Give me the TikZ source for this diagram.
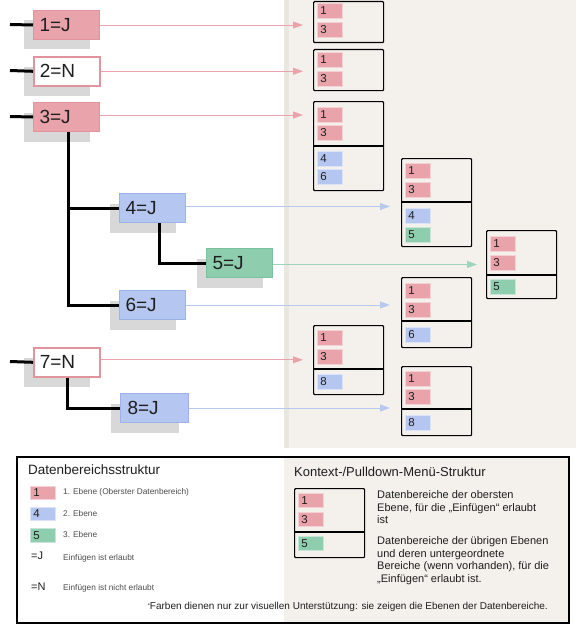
\documentclass[tikz,border=0pt]{standalone}
\usepackage{fontspec}
\setmainfont{Liberation Sans}
\usetikzlibrary{arrows.meta,shadows}
\definecolor{pinkf}{HTML}{E9A3AB}
\definecolor{pinkd}{HTML}{E3939D}
\definecolor{bluef}{HTML}{B5C7F1}
\definecolor{blued}{HTML}{9DB3E8}
\definecolor{greenf}{HTML}{8FCDAF}
\definecolor{greend}{HTML}{78C29C}
\definecolor{shadowc}{HTML}{D8D8D8}
\definecolor{beige}{HTML}{F4F1EC}
\definecolor{beiged}{HTML}{EAE6E0}
\definecolor{txt}{HTML}{1E1E1E}
\definecolor{parrc}{HTML}{EBA3AB}
\definecolor{barrc}{HTML}{B8C9F0}
\definecolor{garrc}{HTML}{9ED4B9}
\tikzset{
  tbox/.style={draw, line width=1pt, minimum width=66pt, minimum height=29pt, inner sep=0pt,
    text width=54pt, align=left, anchor=north west, font=\fontsize{19}{19}\selectfont, text=txt,
    drop shadow={shadow xshift=-10pt, shadow yshift=-10pt, fill=shadowc, opacity=1}},
  pbox/.style={tbox, fill=pinkf, draw=pinkd},
  nbox/.style={tbox, fill=white, draw=pinkd, line width=1.6pt},
  bbox/.style={tbox, fill=bluef, draw=blued},
  gbox/.style={tbox, fill=greenf, draw=greend},
  tree/.style={line width=3pt, black},
  parr/.style={draw=parrc, line width=0.9pt, -{Triangle[length=10pt,width=7pt,fill=parrc]}, shorten >=10pt},
  barr/.style={draw=barrc, line width=0.9pt, -{Triangle[length=10pt,width=7pt,fill=barrc]}, shorten >=11pt},
  garr/.style={draw=garrc, line width=0.9pt, -{Triangle[length=10pt,width=7pt,fill=garrc]}, shorten >=9pt},
  mbox/.style={draw, line width=1.2pt, rounded corners=1pt, minimum width=70pt, inner sep=0pt, anchor=north west},
  mline/.style={line width=1.2pt},
  mitem/.style={minimum width=25pt, minimum height=15pt, inner sep=0pt, text width=19pt, align=left,
    anchor=north west, font=\fontsize{11.5}{11.5}\selectfont, text=txt, line width=0.6pt},
  pi/.style={mitem, fill=pinkf, draw=pinkf!50!white},
  bi/.style={mitem, fill=bluef, draw=bluef!50!white},
  gi/.style={mitem, fill=greenf, draw=greenf!50!white},
  small/.style={font=\fontsize{8.3}{9}\selectfont, text=txt!80, anchor=west, inner sep=0pt},
  ltext/.style={font=\fontsize{11}{12.6}\selectfont, text=txt, anchor=north west, inner sep=0pt, align=left},
}
\begin{document}
\begin{tikzpicture}[x=1pt,y=-1pt]
\useasboundingbox (0,0) rectangle (576,626);
% background panel
\fill[beige] (284,0) rectangle (576,448);
\fill[beiged] (284,0) rectangle (289,448);

% tree nodes
\node[pbox] (n1) at (33,10) {1=J};
\node[nbox] (n2) at (33,56) {2=N};
\node[pbox] (n3) at (33,102) {3=J};
\node[bbox] (n4) at (119,193) {4=J};
\node[gbox] (n5) at (206,248) {5=J};
\node[bbox] (n6) at (119,290) {6=J};
\node[nbox] (n7) at (33,347) {7=N};
\node[bbox, minimum width=68pt] (n8) at (120,393) {8=J};

% stubs
\coordinate (s1) at (10,24.5);
\coordinate (s2) at (10,70.5);
\coordinate (s3) at (10,116.5);
\coordinate (s7) at (10,361.5);
\draw[tree] (s1) -- (n1.west);
\draw[tree] (s2) -- (n2.west);
\draw[tree] (s3) -- (n3.west);
\draw[tree] (s7) -- (n7.west);
\draw[tree] ([xshift=2pt]n3.south) |- (n4.west);
\draw[tree] ([xshift=2pt]n3.south) |- (n6.west);
\draw[tree] ([xshift=6.5pt]n4.south) |- (n5.west);
\draw[tree] ([xshift=0.5pt]n7.south) |- (n8.west);

% menu boxes
\node[mbox, minimum height=41pt] (m1) at (313,1) {};
\node[pi] (m1a) at (317,3) {1};
\node[pi] (m1b) at (317,22) {3};

\node[mbox, minimum height=41pt] (m2) at (313,49) {};
\node[pi] (m2a) at (317,52) {1};
\node[pi] (m2b) at (317,71) {3};

\node[mbox, minimum height=89pt] (m3) at (313,101) {};
\node[pi] (m3a) at (317,107) {1};
\node[pi] (m3b) at (317,125) {3};
\draw[mline] (m3.west |- 0,146) -- (m3.east |- 0,146);
\node[bi] (m3c) at (317,151) {4};
\node[bi] (m3d) at (317,169) {6};

\node[mbox, minimum height=88pt] (m4) at (401,158) {};
\node[pi] (m4a) at (405,163) {1};
\node[pi] (m4b) at (405,182) {3};
\draw[mline] (m4.west |- 0,202) -- (m4.east |- 0,202);
\node[bi] (m4c) at (405,208) {4};
\node[gi] (m4d) at (405,227) {5};

\node[mbox, minimum height=68pt] (m5) at (486,230) {};
\node[pi] (m5a) at (490,236) {1};
\node[pi] (m5b) at (490,255) {3};
\draw[mline] (m5.west |- 0,275) -- (m5.east |- 0,275);
\node[gi] (m5c) at (490,279) {5};

\node[mbox, minimum height=70pt] (m6) at (401,277) {};
\node[pi] (m6a) at (405,283) {1};
\node[pi] (m6b) at (405,302) {3};
\draw[mline] (m6.west |- 0,321) -- (m6.east |- 0,321);
\node[bi] (m6c) at (405,327) {6};

\node[mbox, minimum height=69pt] (m7) at (313,325) {};
\node[pi] (m7a) at (317,330) {1};
\node[pi] (m7b) at (317,349) {3};
\draw[mline] (m7.west |- 0,369) -- (m7.east |- 0,369);
\node[bi] (m7c) at (317,374) {8};

\node[mbox, minimum height=69pt] (m8) at (401,366) {};
\node[pi] (m8a) at (405,371) {1};
\node[pi] (m8b) at (405,389) {3};
\draw[mline] (m8.west |- 0,409) -- (m8.east |- 0,409);
\node[bi] (m8c) at (405,415) {8};

% arrows
\draw[parr] (n1.east) -- (n1.east -| m1.west);
\draw[parr] (n2.east) -- (n2.east -| m2.west);
\draw[parr] ([yshift=2pt]n3.east) -- ([yshift=2pt]n3.east -| m3.west);
\draw[barr] ([yshift=1.5pt]n4.east) -- ([yshift=1.5pt]n4.east -| m4.west);
\draw[garr] ([yshift=-1.5pt]n5.east) -- ([yshift=-1.5pt]n5.east -| m5.west);
\draw[barr] (n6.east) -- (n6.east -| m6.west);
\draw[parr] ([yshift=2.5pt]n7.east) -- ([yshift=2.5pt]n7.east -| m7.west);
\draw[barr] (n8.east) -- (n8.east -| m8.west);

% legend
\fill[beige] (284,456) rectangle (568,622);
\node[draw, line width=2pt, minimum width=552pt, minimum height=166pt, anchor=north west, inner sep=0pt] (lg) at (16,456) {};
\node[font=\fontsize{13.5}{13.5}\selectfont, text=txt, anchor=west, inner sep=0pt] (lt1) at (28,470) {Datenbereichsstruktur};
\node[pi, minimum height=13pt] (lp) at (30,486) {1};
\node[bi, minimum height=13pt] (lb) at (30,507) {4};
\node[gi, minimum height=14pt] (lgn) at (30,528) {5};
\node[small] (lpt) at (63,492.5) {1. Ebene (Oberster Datenbereich)};
\node[small] (lbt) at (63,513.5) {2. Ebene};
\node[small] (lgt) at (63,535) {3. Ebene};
\node[font=\fontsize{11}{11}\selectfont, text=txt, anchor=west, inner sep=0pt] (lj) at (31,556) {=J};
\node[font=\fontsize{11}{11}\selectfont, text=txt, anchor=west, inner sep=0pt] (ln) at (31,587) {=N};
\node[small] (ljt) at (63,558) {Einfügen ist erlaubt};
\node[small] (lnt) at (63,588.5) {Einfügen ist nicht erlaubt};
\node[font=\fontsize{10}{10}\selectfont, text=txt, anchor=east, inner sep=0pt] (lf) at (548,607) {\raisebox{2.5pt}{\fontsize{5.5}{5.5}\selectfont*}Farben dienen nur zur visuellen Unterstützung: sie zeigen die Ebenen der Datenbereiche.};

\node[font=\fontsize{13}{13}\selectfont, text=txt, anchor=west, inner sep=0pt] (lt2) at (294,472) {Kontext-/Pulldown-Menü-Struktur};
\node[mbox, minimum height=69pt] (lm) at (294,488) {};
\node[pi, minimum height=14pt] (lma) at (298,493) {1};
\node[pi, minimum height=14pt] (lmb) at (298,512) {3};
\draw[mline] (lm.west |- 0,532) -- (lm.east |- 0,532);
\node[gi, minimum height=14pt] (lmc) at (298,536) {5};
\node[ltext] (lr1) at (377,490.5) {Datenbereiche der obersten\\Ebene, für die „Einfügen“ erlaubt\\ist};
\node[ltext] (lr2) at (377,536.5) {Datenbereiche der übrigen Ebenen\\und deren untergeordnete\\Bereiche (wenn vorhanden), für die\\„Einfügen“ erlaubt ist.};
\end{tikzpicture}
\end{document}
